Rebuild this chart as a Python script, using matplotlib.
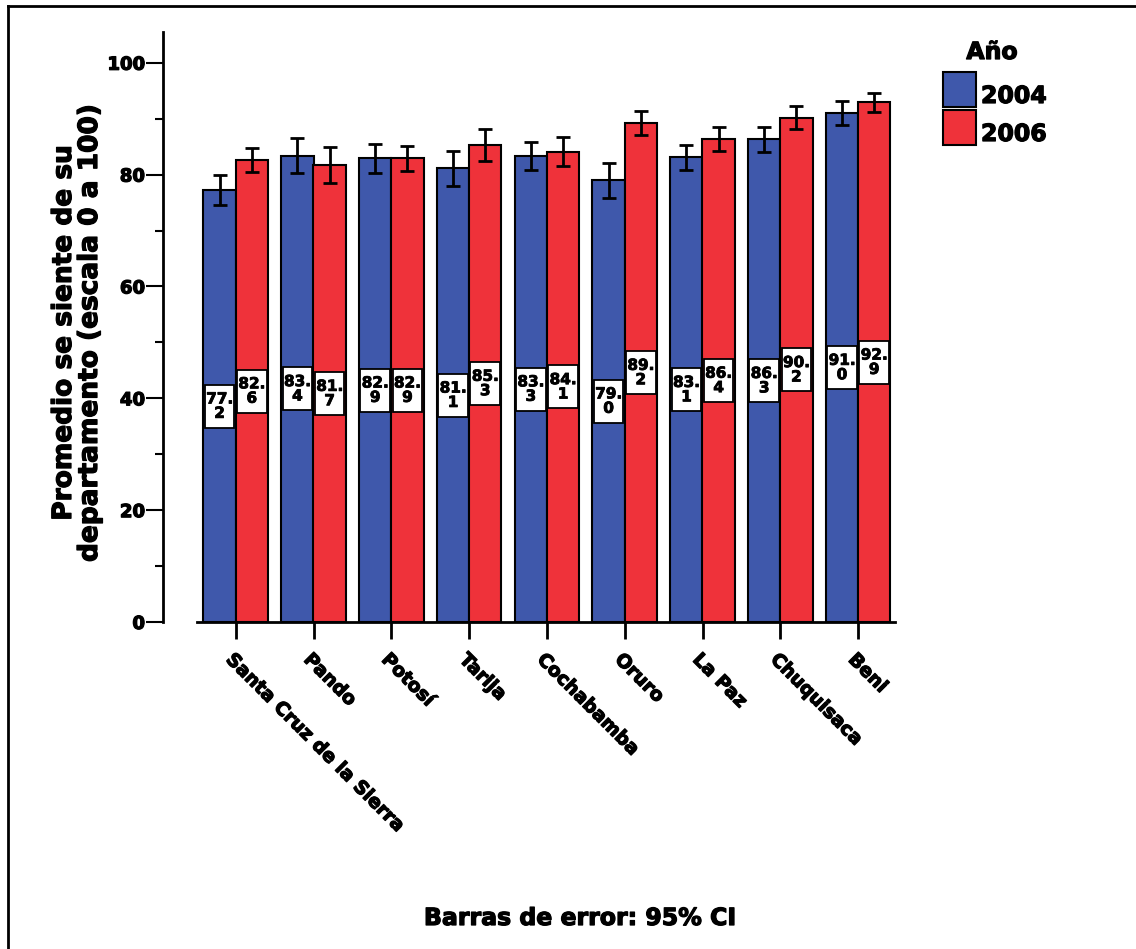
import matplotlib
matplotlib.use("Agg")
import matplotlib.pyplot as plt
import matplotlib.patheffects as pe
from matplotlib.patches import Rectangle
from matplotlib.lines import Line2D
import numpy as np

departamentos = ["Santa Cruz de la Sierra", "Pando", "Potosí", "Tarija", "Cochabamba",
                 "Oruro", "La Paz", "Chuquisaca", "Beni"]
val_2004 = [77.2, 83.4, 82.9, 81.1, 83.3, 79.0, 83.1, 86.3, 91.0]
val_2006 = [82.6, 81.7, 82.9, 85.3, 84.1, 89.2, 86.4, 90.2, 92.9]
err_2004 = [2.7, 3.2, 2.6, 3.2, 2.5, 3.1, 2.2, 2.3, 2.2]
err_2006 = [2.2, 3.2, 2.3, 2.8, 2.6, 2.2, 2.1, 2.0, 1.7]

azul = "#3f58ab"
rojo = "#ef323a"

plt.rcParams["font.family"] = ["DejaVu Sans"]
plt.rcParams["font.weight"] = "bold"
W = "bold"
# trazo fino para que el texto se vea mas grueso
grueso = [pe.withStroke(linewidth=0.9, foreground="black")]

fig = plt.figure(figsize=(11.36, 9.49), dpi=100)
ax = fig.add_axes([163 / 1136, (949 - 622) / 949, 734 / 1136, 590 / 949])

x = np.arange(len(departamentos))
w = 0.415
off = 0.207

for xs, vals, errs, col in [(x - off, val_2004, err_2004, azul), (x + off, val_2006, err_2006, rojo)]:
    ax.bar(xs, vals, width=w, color=col, edgecolor="black", linewidth=1.5, zorder=2)
    ax.errorbar(xs, vals, yerr=errs, fmt="none", ecolor="black", elinewidth=2,
                capsize=5, capthick=2, zorder=4)
    for xi, v in zip(xs, vals):
        ax.add_patch(Rectangle((xi - 0.19, v / 2 - 3.85), 0.38, 7.7, facecolor="white",
                               edgecolor="black", linewidth=1.3, zorder=3))
        s = f"{v:.1f}"
        ax.text(xi, v / 2, s[:3] + "\n" + s[3:], ha="center", va="center", fontsize=11,
                fontweight=W, linespacing=0.95, zorder=5,
                path_effects=[pe.withStroke(linewidth=0.6, foreground="black")])

ax.set_xlim(-0.935, 8.5)
ax.set_ylim(0, 105.5)
ax.spines["top"].set_visible(False)
ax.spines["right"].set_visible(False)
ax.spines["left"].set_linewidth(2)
ax.spines["bottom"].set_linewidth(2)
ax.spines["bottom"].set_bounds(-0.5, 8.48)

ax.set_yticks([0, 20, 40, 60, 80, 100])
ax.set_yticks([10, 30, 50, 70, 90], minor=True)
ax.tick_params(axis="y", which="major", length=12, width=1.5, labelsize=13, pad=1)
ax.tick_params(axis="y", which="minor", length=6, width=1.5)
ax.set_xticks(x)
ax.set_xticklabels(departamentos, rotation=-45, ha="left", va="top",
                   rotation_mode="anchor", fontsize=13.5, fontweight=W)
ax.tick_params(axis="x", length=12, width=2, pad=8)
for lbl in ax.get_yticklabels() + ax.get_xticklabels():
    lbl.set_fontweight(W)
    lbl.set_path_effects(grueso)

fig.text(77 / 1136, 1 - 333 / 949, "Promedio se siente de su\ndepartamento (escala 0 a 100)",
         rotation=90, ha="center", va="center", fontsize=19, fontweight=W,
         linespacing=1.0, path_effects=grueso)

# leyenda
fig.text(992 / 1136, 1 - 52 / 949, "Año", ha="center", va="center", fontsize=17,
         fontweight=W, path_effects=grueso)
for i, (lab, col) in enumerate([("2004", azul), ("2006", rojo)]):
    y0 = 72 + i * 38
    fig.patches.append(Rectangle((943 / 1136, 1 - (y0 + 35) / 949), 33 / 1136, 35 / 949,
                                 transform=fig.transFigure, facecolor=col,
                                 edgecolor="black", linewidth=1.5))
    fig.text(981 / 1136, 1 - (y0 + 24) / 949, lab, ha="left", va="center",
             fontsize=17, fontweight=W, path_effects=grueso)

fig.text(580 / 1136, 1 - 918 / 949, "Barras de error: 95% CI", ha="center", va="center",
         fontsize=17, fontweight=W, path_effects=grueso)

# marco
fig.lines.append(Line2D([8 / 1136, 8 / 1136], [0, 1 - 6 / 949], transform=fig.transFigure,
                        color="black", linewidth=2))
fig.lines.append(Line2D([8 / 1136, 1], [1 - 6 / 949, 1 - 6 / 949], transform=fig.transFigure,
                        color="black", linewidth=2))

fig.savefig("out.png", dpi=100)
